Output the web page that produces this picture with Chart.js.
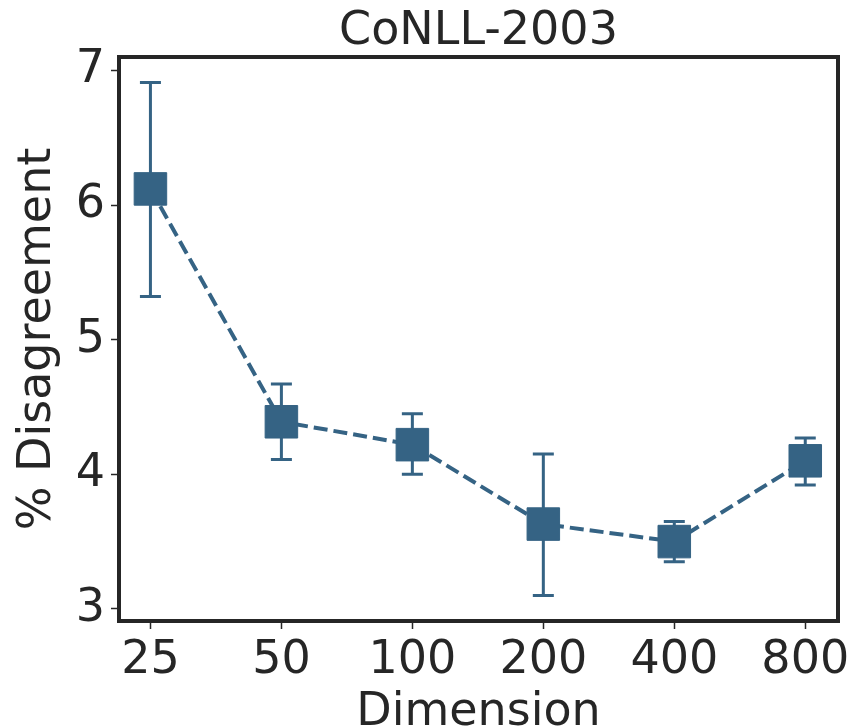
<!DOCTYPE html>
<html>
<head>
<meta charset="utf-8">
<title>CoNLL-2003</title>
<script src="https://cdn.jsdelivr.net/npm/chart.js@4.4.1/dist/chart.umd.min.js"></script>
<style>
    html, body { margin: 0; padding: 0; background: #ffffff; }
    #wrap { width: 856px; height: 728px; }
</style>
</head>
<body>
<div id="wrap"><canvas id="dimChart" width="856" height="728"></canvas></div>
<script>
// Embedding dimension vs. % disagreement (mean with error range)
const dims = ['25', '50', '100', '200', '400', '800'];
const disagreement = [6.12, 4.39, 4.22, 3.63, 3.50, 4.10];
const errLow = [5.32, 4.11, 4.00, 3.10, 3.35, 3.92];
const errHigh = [6.91, 4.67, 4.45, 4.15, 3.65, 4.27];
const yTicks = [3, 4, 5, 6, 7];

const lineColor = '#356384';
const inkColor = '#262626';
const fontFamily = '"DejaVu Sans", "Liberation Sans", sans-serif';

// Vertical error bars with caps, drawn under the markers
const errorBars = {
    id: 'errorBars',
    beforeDatasetsDraw(chart) {
        const { ctx, scales: { x, y } } = chart;
        ctx.save();
        ctx.strokeStyle = lineColor;
        ctx.lineWidth = 3;
        dims.forEach((_, i) => {
            const px = x.getPixelForValue(i);
            const top = y.getPixelForValue(errHigh[i]);
            const bottom = y.getPixelForValue(errLow[i]);
            ctx.beginPath();
            ctx.moveTo(px, top);
            ctx.lineTo(px, bottom);
            ctx.moveTo(px - 10.5, top);
            ctx.lineTo(px + 10.5, top);
            ctx.moveTo(px - 10.5, bottom);
            ctx.lineTo(px + 10.5, bottom);
            ctx.stroke();
        });
        ctx.restore();
    }
};

// Heavy box around the plot area
const frame = {
    id: 'frame',
    afterDraw(chart) {
        const { ctx, chartArea: a } = chart;
        ctx.save();
        ctx.strokeStyle = inkColor;
        ctx.lineWidth = 4;
        ctx.strokeRect(a.left, a.top, a.right - a.left, a.bottom - a.top);
        ctx.restore();
    }
};

const ctx = document.getElementById('dimChart').getContext('2d');
const dimChart = new Chart(ctx, {
    type: 'line',
    data: {
        datasets: [{
            data: disagreement.map((v, i) => ({ x: i, y: v })),
            borderColor: lineColor,
            borderWidth: 4,
            borderDash: [14, 6],
            backgroundColor: lineColor,
            pointStyle: 'rect',
            pointRadius: 23,
            pointBorderWidth: 1,
            pointBorderColor: lineColor,
            pointBackgroundColor: lineColor,
            fill: false,
            tension: 0
        }]
    },
    options: {
        responsive: false,
        animation: false,
        layout: {
            autoPadding: false, // keep the plot box where the padding puts it
            padding: { left: 0, right: 18, top: 0, bottom: 0 }
        },
        plugins: {
            legend: { display: false },
            tooltip: { enabled: false },
            title: {
                display: true,
                fullSize: false,
                text: 'CoNLL-2003',
                color: inkColor,
                font: { family: fontFamily, size: 46, weight: 'normal', lineHeight: 1.1 },
                padding: { top: 6.4, bottom: 0 }
            }
        },
        scales: {
            x: {
                type: 'linear',
                min: -0.24,
                max: 5.25,
                afterBuildTicks: (scale) => {
                    scale.ticks = dims.map((_, i) => ({ value: i }));
                },
                afterFit: (scale) => { scale.height = 107; },
                ticks: {
                    color: inkColor,
                    font: { family: fontFamily, size: 46 },
                    padding: 4,
                    maxRotation: 0,
                    autoSkip: false,
                    callback: (value) => dims[value]
                },
                grid: {
                    drawOnChartArea: false,
                    tickLength: 8,
                    tickColor: inkColor,
                    tickWidth: 1.5
                },
                border: { display: false },
                title: {
                    display: true,
                    text: 'Dimension',
                    color: inkColor,
                    font: { family: fontFamily, size: 46, lineHeight: 0.65 },
                    padding: { top: 0, bottom: 0 }
                }
            },
            y: {
                min: 2.91,
                max: 7.1,
                afterBuildTicks: (scale) => {
                    scale.ticks = yTicks.map(v => ({ value: v }));
                },
                afterFit: (scale) => { scale.width = 119; },
                ticks: {
                    color: inkColor,
                    font: { family: fontFamily, size: 46 },
                    padding: 6
                },
                grid: {
                    drawOnChartArea: false,
                    tickLength: 8,
                    tickColor: inkColor,
                    tickWidth: 1.5
                },
                border: { display: false },
                title: {
                    display: true,
                    text: '% Disagreement',
                    color: inkColor,
                    font: { family: fontFamily, size: 46 },
                    padding: { top: 10, bottom: 0 }
                }
            }
        }
    },
    plugins: [errorBars, frame]
});
</script>
</body>
</html>
